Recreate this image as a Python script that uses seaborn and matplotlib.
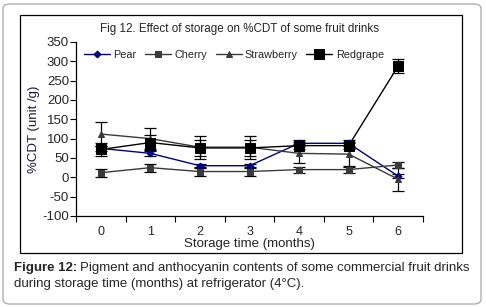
import numpy as np
import pandas as pd
import matplotlib
matplotlib.use("Agg")
import matplotlib.pyplot as plt
from matplotlib.patches import FancyBboxPatch, Rectangle
import seaborn as sns

# values
months = [0, 1, 2, 3, 4, 5, 6]
pear = [75, 62, 30, 30, 88, 88, 3]
cherry = [12, 25, 15, 15, 20, 20, 32]
strawberry = [112, 100, 78, 78, 62, 60, -5]
redgrape = [72, 90, 76, 76, 82, 82, 288]

pear_err = [6, 6, 5, 5, 8, 8, 6]
cherry_err = [10, 10, 12, 12, 8, 8, 8]
strawberry_err = [30, 28, 30, 30, 25, 30, 30]
redgrape_err = [18, 20, 20, 20, 10, 10, 18]

series = ["Pear", "Cherry", "Strawberry", "Redgrape"]
values = [pear, cherry, strawberry, redgrape]
errors = [pear_err, cherry_err, strawberry_err, redgrape_err]

df = pd.DataFrame({
    "month": months * 4,
    "cdt": pear + cherry + strawberry + redgrape,
    "drink": [s for s in series for _ in months],
})

sns.set_style("white")
plt.rcParams["font.family"] = ["Liberation Sans", "DejaVu Sans"]
plt.rcParams["axes.unicode_minus"] = False

fig = plt.figure(figsize=(4.86, 3.07), dpi=100)
ax = fig.add_axes([76 / 486, 1 - 216 / 307, 347 / 486, 174 / 307])

colors = {"Pear": "#000080", "Cherry": "#3a3a3a", "Strawberry": "#3a3a3a", "Redgrape": "#000000"}
markers = {"Pear": "D", "Cherry": "s", "Strawberry": "^", "Redgrape": "s"}
sizes = {"Pear": 3.5, "Cherry": 5, "Strawberry": 5, "Redgrape": 7.5}

for name, vals, errs in zip(series, values, errors):
    sub = df[df["drink"] == name]
    ax.errorbar(months, vals, yerr=errs, fmt="none", ecolor="black",
                elinewidth=0.9, capsize=4, capthick=0.9, zorder=2)
    sns.lineplot(data=sub, x="month", y="cdt", ax=ax, color=colors[name],
                 marker=markers[name], markersize=sizes[name],
                 markeredgecolor=colors[name], linewidth=1.0,
                 label=name, zorder=3)

ax.set_xlim(-0.5, 6.5)
ax.set_ylim(-100, 350)
ax.set_yticks(range(-100, 351, 50))
ax.set_xticks(months)
ax.set_xticks(np.arange(-0.5, 6.6, 1), minor=True)
ax.tick_params(axis="x", which="major", length=0, labelsize=9, pad=7)
ax.tick_params(axis="x", which="minor", length=4, width=0.8, direction="out",
               color="black", bottom=True)
ax.tick_params(axis="y", length=4, width=0.8, direction="out", color="black",
               labelsize=9.5, left=True, pad=1)
for side in ["top", "right"]:
    ax.spines[side].set_visible(False)
for side in ["left", "bottom"]:
    ax.spines[side].set_color("black")
    ax.spines[side].set_linewidth(0.9)

ax.set_xlabel("Storage time (months)", fontsize=9.5, labelpad=0)
ax.set_ylabel("%CDT (unit /g)", fontsize=9.5, color="#1a1a40", labelpad=2)

ax.legend(loc="center left", bbox_to_anchor=(0.01, 0.925), ncol=4, frameon=False,
          fontsize=7.8, handlelength=2.4, columnspacing=0.8, handletextpad=0.3,
          borderaxespad=0)

fig.text(240 / 486, 1 - 29 / 307, "Fig 12. Effect of storage on %CDT of some fruit drinks",
         ha="center", va="center", fontsize=8.4)

# chart frame and rounded outer border
fig.patches.append(Rectangle((20 / 486, 1 - 253 / 307), 442 / 486, 238 / 307,
                             transform=fig.transFigure, fill=False,
                             edgecolor="black", linewidth=0.9))
fig.patches.append(FancyBboxPatch((3 / 486, 3 / 307), 478 / 486, 300 / 307,
                                  boxstyle="round,pad=0,rounding_size=0.015",
                                  transform=fig.transFigure, fill=False,
                                  edgecolor="#b0b0b0", linewidth=1.0))

head = fig.text(14 / 486, 1 - 268 / 307, "Figure 12:", fontsize=9.5, fontweight="bold",
                ha="left", va="center")
renderer = fig.canvas.get_renderer()
bb = head.get_window_extent(renderer)
fig.text((bb.x1 + 3) / 486, 1 - 268 / 307,
         "Pigment and anthocyanin contents of some commercial fruit drinks",
         fontsize=9.5, ha="left", va="center")
fig.text(14 / 486, 1 - 284 / 307,
         "during storage time (months) at refrigerator (4\u00b0C).",
         fontsize=9.5, ha="left", va="center")

fig.savefig("out.png", dpi=100)
